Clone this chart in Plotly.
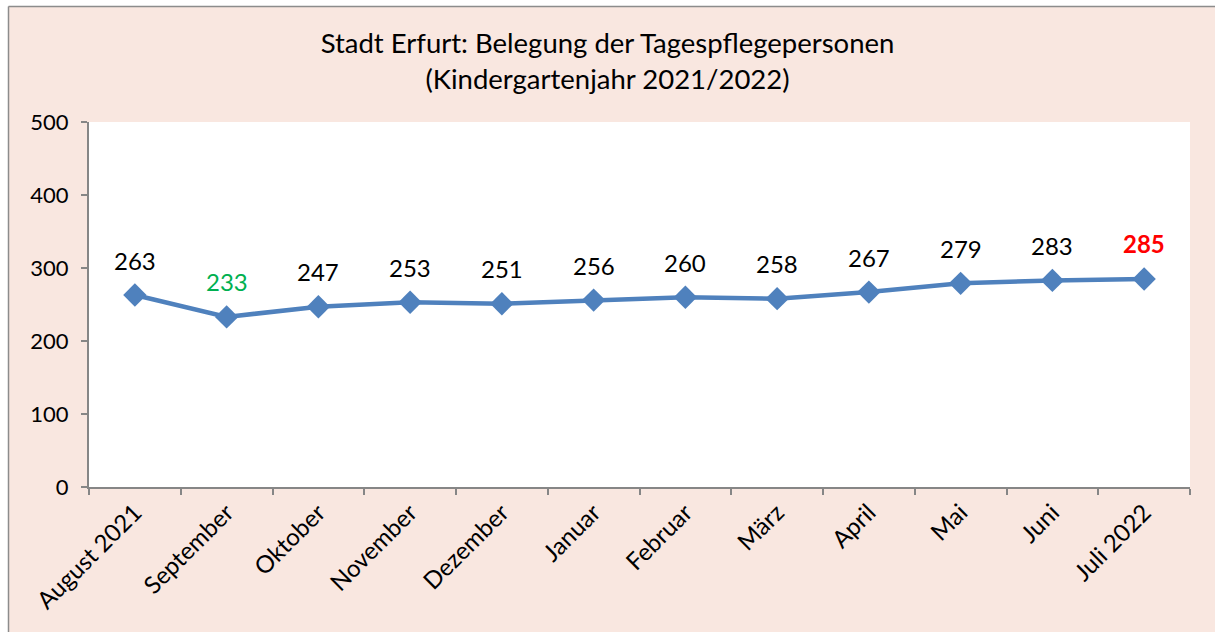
import plotly.graph_objects as go

months = ["August 2021", "September", "Oktober", "November", "Dezember", "Januar",
          "Februar", "März", "April", "Mai", "Juni", "Juli 2022"]
values = [263, 233, 247, 253, 251, 256, 260, 258, 267, 279, 283, 285]
label_colors = ["black", "#00B050", "black", "black", "black", "black",
                "black", "black", "black", "black", "black", "#FF0000"]
label_bold = [False, False, False, False, False, False,
              False, False, False, False, False, True]
y_ticks = [0, 100, 200, 300, 400, 500]

W, H = 1215, 632
L, R, T, B = 89, 25, 122, 145
PW, PH = W - L - R, H - T - B

def px_x(p):
    return (p - L) / PW

def px_y(p):
    return (H - B - p) / PH

FONT = "Lato"
PINK = "#F9E7E0"

fig = go.Figure()
fig.add_trace(go.Scatter(
    x=months, y=values, mode="lines+markers",
    line=dict(color="#4F81BD", width=4.5),
    marker=dict(symbol="diamond", size=18, color="#4F81BD"),
    hoverinfo="x+y", showlegend=False,
))

for m, v, c, b in zip(months, values, label_colors, label_bold):
    fig.add_annotation(
        x=m, y=v, text=f"<b>{v}</b>" if b else str(v), showarrow=False,
        yshift=35, font=dict(family=FONT, size=24, color=c),
    )

shapes = [
    dict(type="rect", xref="paper", yref="paper", x0=px_x(0), x1=px_x(W), y0=px_y(0), y1=px_y(6),
         fillcolor="white", line=dict(width=0), layer="below"),
    dict(type="rect", xref="paper", yref="paper", x0=px_x(0), x1=px_x(8), y0=px_y(0), y1=px_y(H),
         fillcolor="white", line=dict(width=0), layer="below"),
    dict(type="line", xref="paper", yref="paper", x0=px_x(8.5), x1=px_x(W), y0=px_y(6.5), y1=px_y(6.5),
         line=dict(color="#8C8C8C", width=1.5)),
    dict(type="line", xref="paper", yref="paper", x0=px_x(8.5), x1=px_x(8.5), y0=px_y(6.5), y1=px_y(H),
         line=dict(color="#8C8C8C", width=1.5)),
]

fig.update_layout(
    width=W, height=H,
    margin=dict(l=L, r=R, t=T, b=B, autoexpand=False),
    paper_bgcolor=PINK, plot_bgcolor="white",
    font=dict(family=FONT, size=22, color="black"),
    title=dict(
        text="Stadt Erfurt: Belegung der Tagespflegepersonen<br>(Kindergartenjahr 2021/2022)",
        x=0.5, xanchor="center", y=1 - 53 / H, yanchor="middle",
        font=dict(family=FONT, size=27.5, color="black"),
    ),
    shapes=shapes,
    xaxis=dict(
        type="category", range=[-0.5, 11.5], showgrid=False, automargin=False,
        showline=True, linecolor="#868686", linewidth=2,
        ticks="outside", tickson="boundaries", ticklen=6, tickcolor="#868686", tickwidth=2,
        tickangle=-45, tickfont=dict(family=FONT, size=24, color="black"),
    ),
    yaxis=dict(
        range=[0, 500], tickvals=y_ticks, showgrid=False, zeroline=False, automargin=False,
        showline=True, linecolor="#868686", linewidth=2,
        ticks="outside", ticklen=6, tickcolor="#868686", tickwidth=2, ticklabelstandoff=8,
        tickfont=dict(family=FONT, size=22, color="black"),
    ),
)

fig.write_html(
    "out.html",
    config={"displayModeBar": False},
    post_script="document.body.style.margin='0';document.body.style.overflow='hidden';",
)
